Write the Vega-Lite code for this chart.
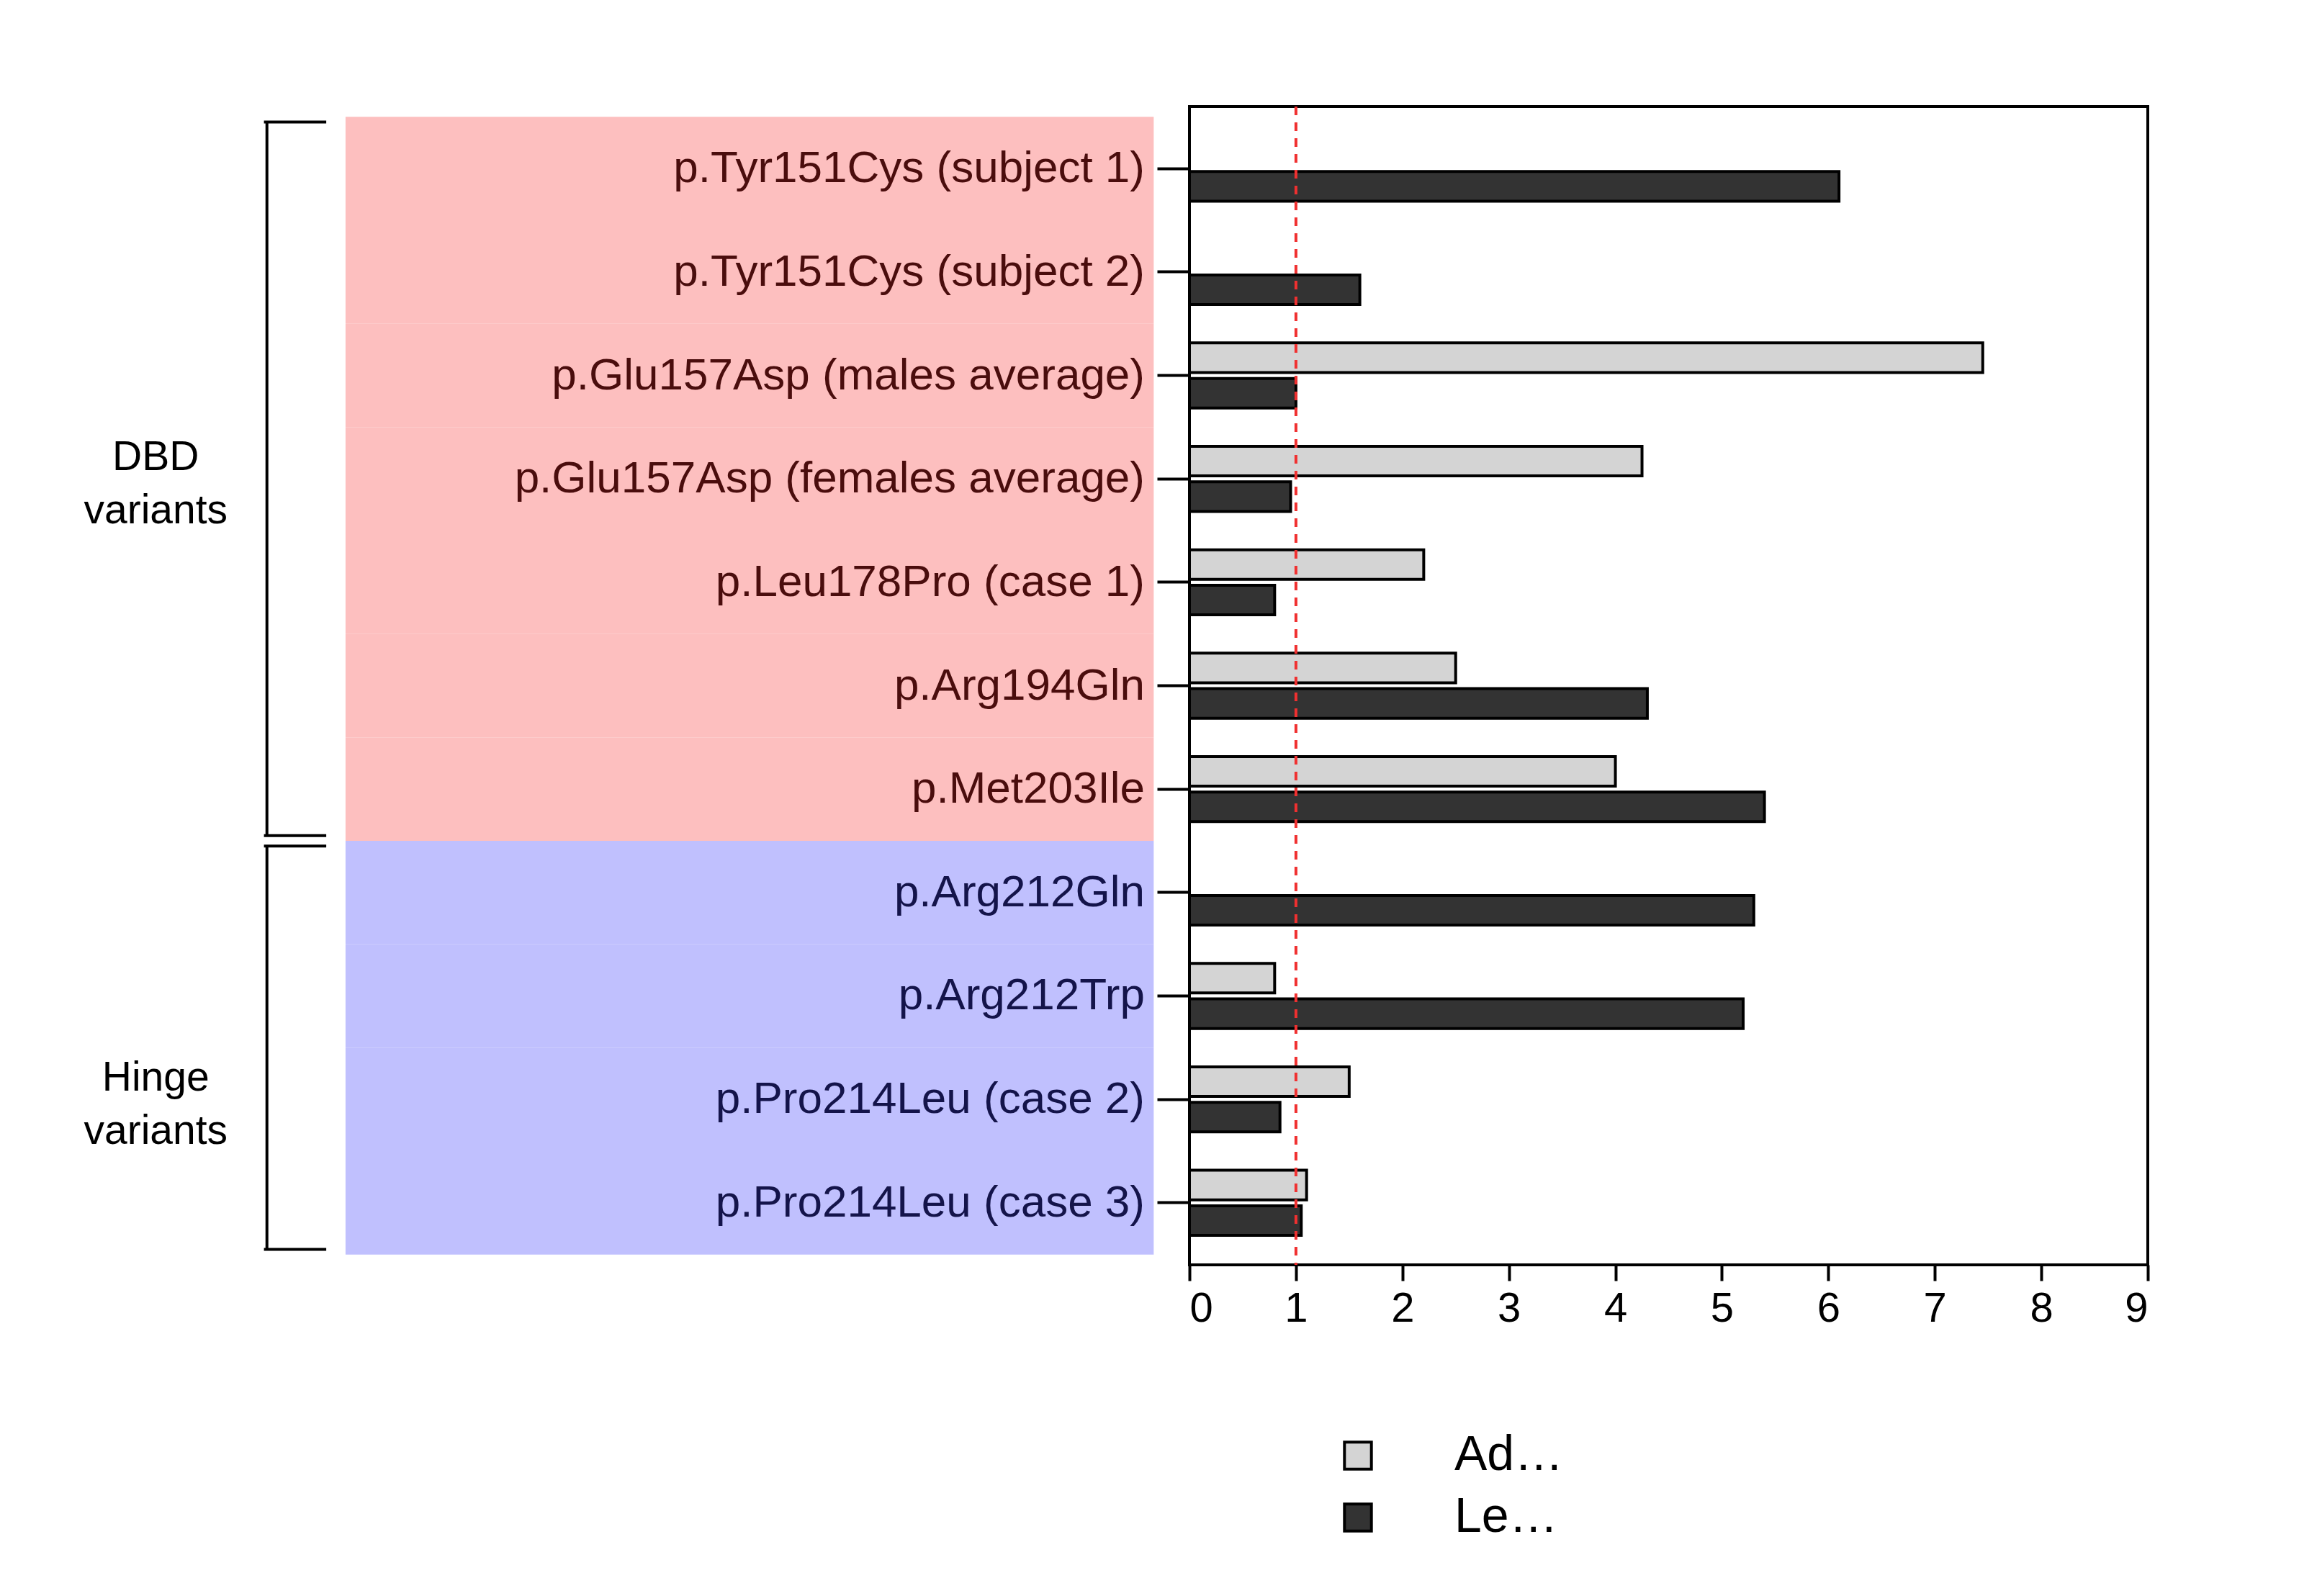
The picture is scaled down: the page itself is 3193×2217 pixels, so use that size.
{
  "$schema": "https://vega.github.io/schema/vega-lite/v6.json",
  "background": "white",
  "padding": {"top": 144, "left": 0, "right": 0, "bottom": 0},
  "config": {"font": "Liberation Sans", "concat": {"spacing": 0}},
  "datasets": {
    "rows": [
      {"variant": "p.Tyr151Cys (subject 1)", "group": "DBD"},
      {"variant": "p.Tyr151Cys (subject 2)", "group": "DBD"},
      {"variant": "p.Glu157Asp (males average)", "group": "DBD"},
      {"variant": "p.Glu157Asp (females average)", "group": "DBD"},
      {"variant": "p.Leu178Pro (case 1)", "group": "DBD"},
      {"variant": "p.Arg194Gln", "group": "DBD"},
      {"variant": "p.Met203Ile", "group": "DBD"},
      {"variant": "p.Arg212Gln", "group": "Hinge"},
      {"variant": "p.Arg212Trp", "group": "Hinge"},
      {"variant": "p.Pro214Leu (case 2)", "group": "Hinge"},
      {"variant": "p.Pro214Leu (case 3)", "group": "Hinge"}
    ],
    "groups": [
      {"label": "DBD\nvariants", "top": "p.Tyr151Cys (subject 1)", "bottom": "p.Met203Ile", "mid": "p.Glu157Asp (females average)"},
      {"label": "Hinge\nvariants", "top": "p.Arg212Gln", "bottom": "p.Pro214Leu (case 3)", "mid": "p.Pro214Leu (case 2)"}
    ],
    "bars": [
      {"variant": "p.Tyr151Cys (subject 1)", "measure": "Leptin ng/mL", "value": 6.1},
      {"variant": "p.Tyr151Cys (subject 2)", "measure": "Leptin ng/mL", "value": 1.6},
      {"variant": "p.Glu157Asp (males average)", "measure": "Adiponectin µg/mL", "value": 7.45},
      {"variant": "p.Glu157Asp (males average)", "measure": "Leptin ng/mL", "value": 1.0},
      {"variant": "p.Glu157Asp (females average)", "measure": "Adiponectin µg/mL", "value": 4.25},
      {"variant": "p.Glu157Asp (females average)", "measure": "Leptin ng/mL", "value": 0.95},
      {"variant": "p.Leu178Pro (case 1)", "measure": "Adiponectin µg/mL", "value": 2.2},
      {"variant": "p.Leu178Pro (case 1)", "measure": "Leptin ng/mL", "value": 0.8},
      {"variant": "p.Arg194Gln", "measure": "Adiponectin µg/mL", "value": 2.5},
      {"variant": "p.Arg194Gln", "measure": "Leptin ng/mL", "value": 4.3},
      {"variant": "p.Met203Ile", "measure": "Adiponectin µg/mL", "value": 4.0},
      {"variant": "p.Met203Ile", "measure": "Leptin ng/mL", "value": 5.4},
      {"variant": "p.Arg212Gln", "measure": "Leptin ng/mL", "value": 5.3},
      {"variant": "p.Arg212Trp", "measure": "Adiponectin µg/mL", "value": 0.8},
      {"variant": "p.Arg212Trp", "measure": "Leptin ng/mL", "value": 5.2},
      {"variant": "p.Pro214Leu (case 2)", "measure": "Adiponectin µg/mL", "value": 1.5},
      {"variant": "p.Pro214Leu (case 2)", "measure": "Leptin ng/mL", "value": 0.85},
      {"variant": "p.Pro214Leu (case 3)", "measure": "Adiponectin µg/mL", "value": 1.1},
      {"variant": "p.Pro214Leu (case 3)", "measure": "Leptin ng/mL", "value": 1.05}
    ],
    "ref": [{"x": 1}]
  },
  "resolve": {"scale": {"y": "shared", "color": "independent"}},
  "hconcat": [
    {
      "width": 1590,
      "height": 1609,
      "view": {"stroke": null},
      "encoding": {
        "y": {"type": "nominal",
          "scale": {"domain": ["p.Tyr151Cys (subject 1)", "p.Tyr151Cys (subject 2)", "p.Glu157Asp (males average)", "p.Glu157Asp (females average)", "p.Leu178Pro (case 1)", "p.Arg194Gln", "p.Met203Ile", "p.Arg212Gln", "p.Arg212Trp", "p.Pro214Leu (case 2)", "p.Pro214Leu (case 3)"], "paddingInner": 0, "paddingOuter": 0.1},
          "axis": null}
      },
      "layer": [
        {
          "data": {"name": "rows"},
          "mark": {"type": "bar"},
          "encoding": {
            "x": {"datum": 233, "type": "quantitative", "scale": {"domain": [0, 772], "nice": false}, "axis": null},
            "x2": {"datum": 778},
            "y": {"field": "variant", "type": "nominal"},
            "color": {"condition": {"test": "datum.group === 'DBD'", "value": "#fdbfbf"}, "value": "#c0c0fe"}
          }
        },
        {
          "data": {"name": "rows"},
          "mark": {"type": "text", "align": "right", "baseline": "middle", "fontSize": 62},
          "encoding": {
            "x": {"datum": 772, "type": "quantitative"},
            "y": {"field": "variant", "type": "nominal"},
            "text": {"field": "variant"},
            "color": {"condition": {"test": "datum.group === 'DBD'", "value": "#4a0d0d"}, "value": "#14144a"}
          }
        },
        {
          "data": {"name": "groups"},
          "mark": {"type": "rule", "strokeWidth": 4, "color": "black"},
          "encoding": {
            "x": {"datum": 180, "type": "quantitative"},
            "y": {"field": "top", "type": "nominal", "bandPosition": 0.05},
            "y2": {"field": "bottom", "bandPosition": 0.95}
          }
        },
        {
          "data": {"name": "groups"},
          "mark": {"type": "rule", "strokeWidth": 4, "color": "black"},
          "encoding": {
            "x": {"datum": 178, "type": "quantitative"},
            "x2": {"datum": 220},
            "y": {"field": "top", "type": "nominal", "bandPosition": 0.05}
          }
        },
        {
          "data": {"name": "groups"},
          "mark": {"type": "rule", "strokeWidth": 4, "color": "black"},
          "encoding": {
            "x": {"datum": 178, "type": "quantitative"},
            "x2": {"datum": 220},
            "y": {"field": "bottom", "type": "nominal", "bandPosition": 0.95}
          }
        },
        {
          "data": {"name": "groups"},
          "mark": {"type": "text", "align": "center", "baseline": "middle", "fontSize": 57, "lineBreak": "\n", "lineHeight": 74},
          "encoding": {
            "x": {"datum": 105, "type": "quantitative"},
            "y": {"field": "mid", "type": "nominal", "bandPosition": 0.3},
            "text": {"field": "label"}
          }
        }
      ]
    },
    {
      "width": 1331,
      "height": 1609,
      "view": {"stroke": "black", "strokeWidth": 4},
      "layer": [
        {
          "data": {"name": "bars"},
          "mark": {"type": "bar", "stroke": "black", "strokeWidth": 4},
          "encoding": {
            "x": {"field": "value", "type": "quantitative", "scale": {"domain": [0, 9], "nice": false},
              "axis": {"values": [0,1,2,3,4,5,6,7,8,9], "format": "d", "title": null, "grid": false, "domain": false, "tickSize": 22, "tickWidth": 4, "tickColor": "black", "labelFontSize": 58, "labelColor": "black", "labelPadding": 10}},
            "y": {"field": "variant", "type": "nominal",
              "axis": {"labels": false, "title": null, "domain": false, "tickSize": 45, "tickWidth": 4, "tickColor": "black"}},
            "yOffset": {"field": "measure", "type": "nominal", "sort": ["Adiponectin µg/mL", "Leptin ng/mL"], "scale": {"paddingInner": 0.1667, "paddingOuter": 0.54}},
            "color": {"field": "measure", "type": "nominal", "sort": ["Adiponectin µg/mL", "Leptin ng/mL"],
              "scale": {"range": ["#d4d4d4", "#333333"]},
              "legend": {"title": null, "orient": "none", "legendX": 200, "legendY": 1840, "symbolType": "square", "symbolSize": 1400, "symbolStrokeColor": "black", "symbolStrokeWidth": 4, "symbolOpacity": 1, "labelFontSize": 68, "labelColor": "black", "labelOffset": 100, "rowPadding": 18}}
          }
        },
        {
          "data": {"name": "ref"},
          "mark": {"type": "rule", "color": "#f03030", "strokeWidth": 4, "strokeDash": [12, 10]},
          "encoding": {"x": {"field": "x", "type": "quantitative"}}
        }
      ]
    }
  ]
}
